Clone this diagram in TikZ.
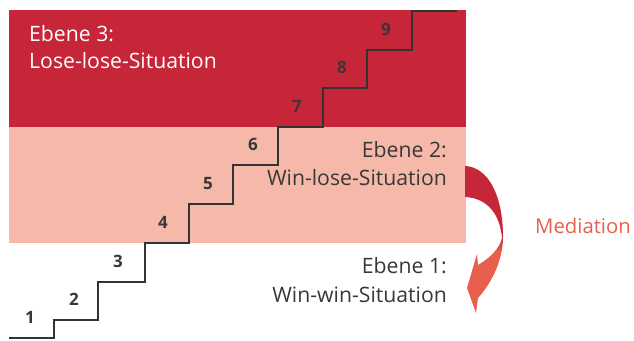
\documentclass[tikz,border=0pt]{standalone}
\usepackage{fontspec}
\setmainfont{Open Sans}
\definecolor{darkred}{HTML}{C62638}
\definecolor{pinkish}{HTML}{F6B9A9}
\definecolor{txt}{HTML}{383838}
\definecolor{salmon}{HTML}{E85F4D}
\definecolor{stairline}{HTML}{333333}
\pgfdeclareverticalshading{medshade}{100bp}{color(0bp)=(salmon); color(46bp)=(salmon); color(51bp)=(darkred); color(100bp)=(darkred)}
\begin{document}
\begin{tikzpicture}[x=1pt,y=-1pt,
  lbl/.style={font=\fontsize{21.2}{24}\selectfont, inner sep=0pt, text=txt},
  num/.style={font=\fontsize{17}{20}\selectfont\bfseries, text=txt, inner sep=0pt, anchor=base}]
\useasboundingbox (0,0) rectangle (634,340);
\fill[darkred] (9,10) rectangle (466,127);
\fill[pinkish] (9,127) rectangle (466,243);
\draw[stairline, line width=1.6pt] (9,338) -- (54,338) -- (54,320) -- (98,320) -- (98,282) -- (145,282) -- (145,243) -- (189,243) -- (189,204) -- (233,204) -- (233,165) -- (278,165) -- (278,127) -- (323,127) -- (323,88) -- (367,88) -- (367,50) -- (412,50) -- (412,11) -- (457,11);
\foreach \x/\y/\n in {30/323/1, 74/305/2, 118/267/3, 163/228/4, 208/189/5, 253/150/6, 297/112/7, 342/73/8, 386/35/9}
  \node[num] (n\n) at (\x,\y) {\n};
\node[lbl, text=white, anchor=base west] (e3) at (29,41) {Ebene 3:};
\node[lbl, text=white, anchor=base west] (s3) at (29,68) {Lose-lose-Situation};
\node[lbl, anchor=base east] (e2) at (447,157) {Ebene 2:};
\node[lbl, anchor=base east] (s2) at (447,185) {Win-lose-Situation};
\node[lbl, anchor=base east] (e1) at (447,273) {Ebene 1:};
\node[lbl, anchor=base east] (s1) at (447,302) {Win-win-Situation};
\node[lbl, font=\fontsize{20.3}{24}\selectfont, text=salmon, anchor=base west] (med) at (535,233) {Mediation};
\shade[shading=medshade] (465,166) .. controls (488,167) and (503,195) .. (503,237)
  .. controls (503,262) and (490,285) .. (478,298)
  -- (476,313) -- (467,288) -- (477,254) -- (478,265)
  .. controls (490,258) and (500,248) .. (502,238)
  .. controls (500,215) and (488,198) .. (465,197) -- cycle;
\end{tikzpicture}
\end{document}
